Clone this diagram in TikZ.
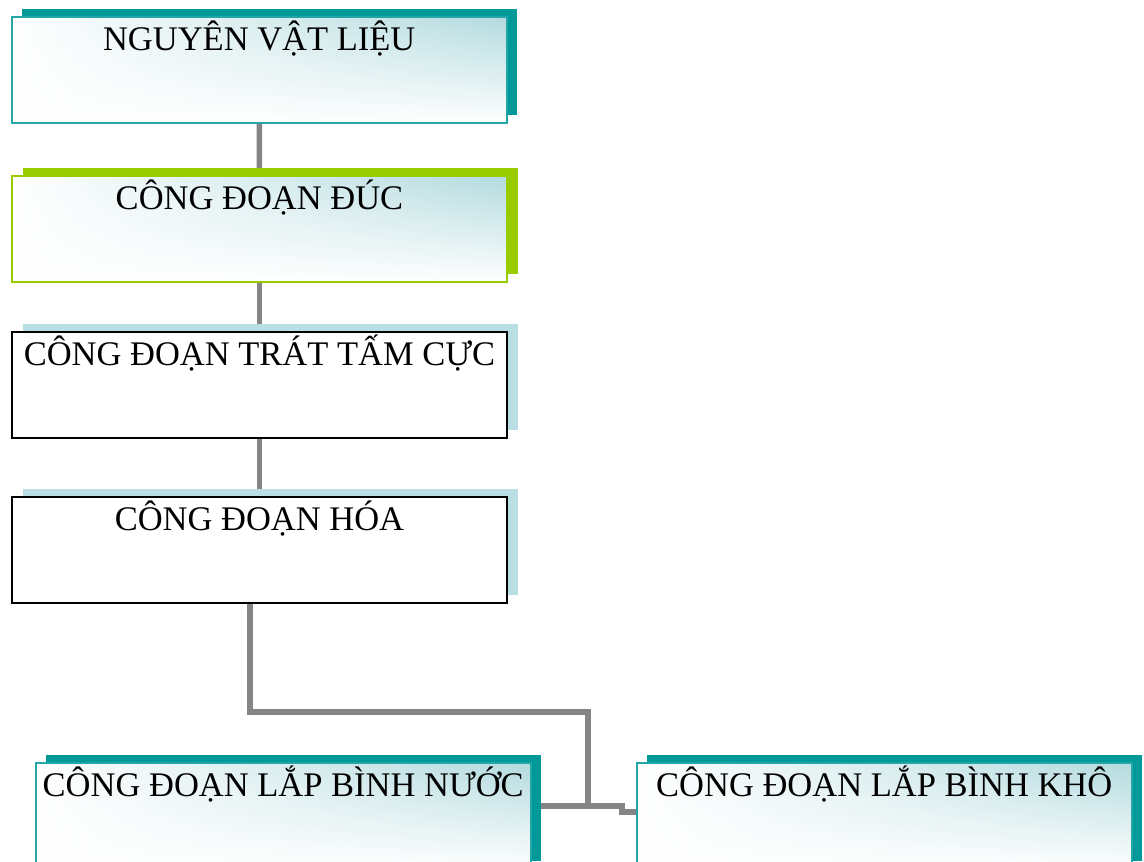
\documentclass[tikz,border=0pt]{standalone}
\usepackage{fontspec}
\setmainfont{Liberation Serif}
\usetikzlibrary{shadows,fadings,backgrounds}
\definecolor{tealc}{HTML}{009999}
\definecolor{tealline}{HTML}{22A6A6}
\definecolor{greenc}{HTML}{99CC00}
\definecolor{pale}{HTML}{B9DFE4}
\definecolor{grad}{HTML}{B3DBDF}
\definecolor{conncol}{HTML}{858585}
\begin{document}
\begin{tikzpicture}[x=1pt,y=-1pt,
  box/.style={rectangle, minimum width=495pt, minimum height=106pt, inner sep=0pt, anchor=north west, fill=white},
  gradfill/.style={path picture={
      \shade[left color=white,right color=grad] (path picture bounding box.south west) rectangle (path picture bounding box.north east);
      \fill[white,path fading=north] (path picture bounding box.south west) rectangle (path picture bounding box.north east);}},
  shad/.style={drop shadow={shadow xshift=10.5pt, shadow yshift=8pt, fill=#1, opacity=1}},
  tealbox/.style={box, draw=tealline, line width=1.5pt, gradfill, shad=tealc},
  greenbox/.style={box, draw=greenc, line width=2pt, gradfill, shad=greenc},
  plainbox/.style={box, draw=black, line width=2pt, shad=pale},
  ttl/.style={anchor=base, yshift=-34pt, font=\fontsize{34.5}{40}\selectfont},
  conn/.style={draw=conncol, line width=5.5pt}
]
\useasboundingbox (0,0) rectangle (1144,862);
\clip (0,0) rectangle (1144,862);

\node[tealbox, label={[ttl]north:NGUYÊN VẬT LIỆU}] (n1) at (11,16) {};
\node[greenbox, label={[ttl]north:CÔNG ĐOẠN ĐÚC}] (n2) at (11,175) {};
\node[plainbox, label={[ttl]north:CÔNG ĐOẠN TRÁT TẤM CỰC}] (n3) at (11,331) {};
\node[plainbox, label={[ttl]north:CÔNG ĐOẠN HÓA}] (n4) at (11,496) {};
\node[tealbox, label={[ttl]north:CÔNG ĐOẠN LẮP BÌNH NƯỚC}] (n5) at (35,762) {};
\node[tealbox, label={[ttl]north:CÔNG ĐOẠN LẮP BÌNH KHÔ}] (n6) at (636,762) {};

\coordinate (a) at (250,712);
\coordinate (b) at (588,806);
\coordinate (s1) at (622,806);
\coordinate (s2) at (622,812);

\begin{scope}[on background layer]
\draw[conn] (n1.south) -- (n2.north);
\draw[conn] (n2.south) -- (n3.north);
\draw[conn] (n3.south) -- (n4.north);
\draw[conn] (n4.south -| a) -- (a) -| (b);
\draw[conn] (n5.north east |- b) -- (s1) -- (s2) -- (n6.north west |- s2);
\end{scope}
\end{tikzpicture}
\end{document}
